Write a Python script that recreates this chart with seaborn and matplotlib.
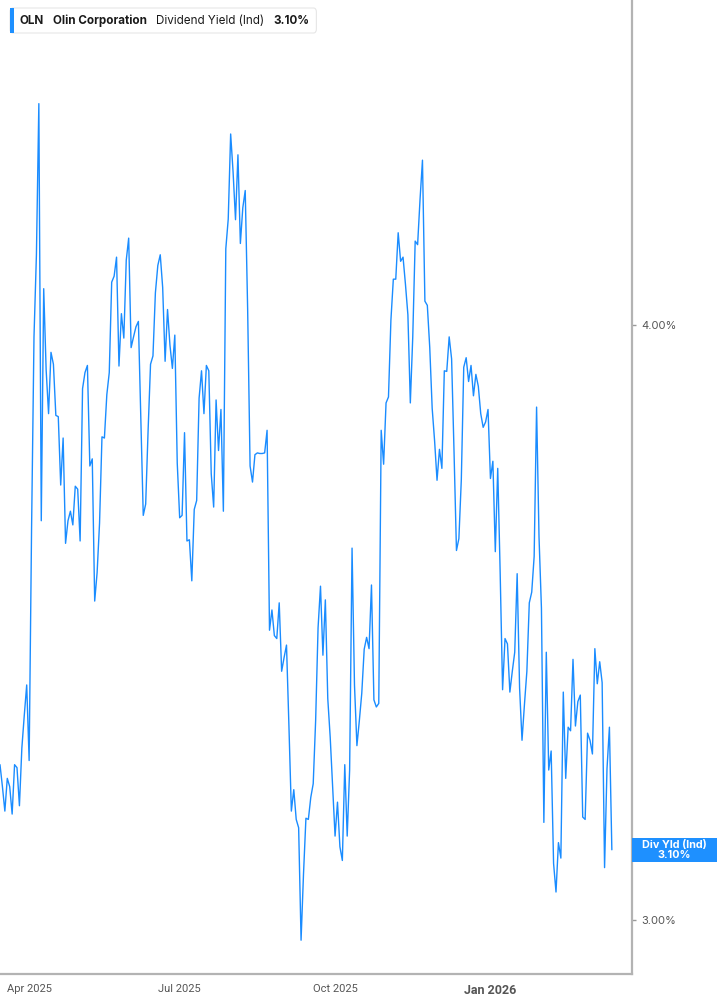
import numpy as np
import pandas as pd
import matplotlib
matplotlib.use("Agg")
import matplotlib.pyplot as plt
import matplotlib.transforms as mtransforms
from matplotlib.patches import FancyBboxPatch, Rectangle
import seaborn as sns

# ---------------- data ----------------
holidays = ["2025-04-18", "2025-05-26", "2025-06-19", "2025-07-04", "2025-09-01",
            "2025-11-27", "2025-12-25", "2026-01-01", "2026-01-19", "2026-02-16"]

yield_pct = [
    3.261, 3.224, 3.183, 3.238, 3.224, 3.178, 3.261, 3.256, 3.192,
    3.289, 3.344, 3.395, 3.268, 3.657, 3.980, 4.118, 4.372, 3.671,
    4.061, 3.925, 3.851, 3.954, 3.934, 3.848, 3.846, 3.731, 3.810, 3.633,
    3.671, 3.687, 3.664, 3.729, 3.724, 3.637, 3.893, 3.920, 3.932, 3.763,
    3.775, 3.536, 3.584, 3.667, 3.812, 3.810, 3.883, 3.920,
    4.072, 4.082, 4.114, 3.931, 4.019, 3.978, 4.109, 4.146, 3.962, 3.980,
    3.997, 4.006, 3.842, 3.680, 3.699, 3.823, 3.934, 3.948, 4.054, 4.100,
    4.118, 4.063, 3.939, 4.026, 3.966, 3.927, 3.983, 3.768, 3.676, 3.680,
    3.819, 3.637, 3.639, 3.570, 3.690, 3.705, 3.877, 3.923, 3.851, 3.932,
    3.923,
    3.750, 3.694, 3.874, 3.789, 3.858, 3.687, 4.128, 4.178, 4.321, 4.257,
    4.177, 4.286, 4.137, 4.197, 4.226, 4.026, 3.763, 3.736, 3.782, 3.785,
    3.784, 3.784, 3.785, 3.823, 3.487, 3.521, 3.478, 3.473, 3.533, 3.418,
    3.441, 3.462, 3.326, 3.183, 3.219, 3.169, 3.155, 2.966, 3.077, 3.171,
    3.169, 3.206,
    3.229, 3.335, 3.491, 3.561, 3.445, 3.538, 3.372, 3.307, 3.224, 3.141,
    3.198, 3.123, 3.100, 3.261, 3.141, 3.252, 3.625, 3.395, 3.293, 3.335,
    3.381, 3.455, 3.475, 3.456, 3.563, 3.370, 3.358, 3.364, 3.823, 3.766,
    3.869, 3.879, 4.008, 4.077, 4.077, 4.155, 4.107, 4.114, 4.068, 4.017,
    3.869,
    3.980, 4.141, 4.135, 4.211, 4.277, 4.040, 4.033, 3.962, 3.860, 3.805,
    3.739, 3.791, 3.759, 3.923, 3.922, 3.980, 3.943, 3.787, 3.621, 3.641,
    3.740, 3.929, 3.945, 3.905, 3.932, 3.881, 3.917, 3.897, 3.851, 3.828,
    3.837, 3.858, 3.742, 3.771, 3.619, 3.759, 3.584,
    3.387, 3.473, 3.464, 3.383, 3.418, 3.450, 3.582, 3.390, 3.302, 3.362,
    3.418, 3.533, 3.551, 3.611, 3.862, 3.644, 3.524, 3.164, 3.450, 3.252,
    3.284, 3.095, 3.047, 3.130, 3.104, 3.383, 3.238, 3.324, 3.318, 3.438,
    3.326, 3.367, 3.378, 3.173, 3.169, 3.314, 3.302, 3.279, 3.456, 3.397,
    3.434, 3.399, 3.088, 3.254, 3.324, 3.118,
]

tick_months = ["2025-04", "2025-07", "2025-10", "2026-01"]
tick_labels = ["Apr 2025", "Jul 2025", "Oct 2025", "Jan 2026"]
ytick_values = [3.0, 4.0]

ticker = "OLN"
company = "Olin Corporation"
metric = "Dividend Yield (Ind)"
last_label = "3.10%"
badge_title = "Div Yld (Ind)"

dates = pd.bdate_range("2025-03-14", periods=len(yield_pct), freq="C", holidays=holidays)
df = pd.DataFrame({"idx": np.arange(len(dates)), "date": dates, "yield": yield_pct})
month_str = df["date"].dt.strftime("%Y-%m")
tick_pos = [int(df.loc[month_str == m, "idx"].iloc[0]) for m in tick_months]

# ---------------- figure ----------------
sns.set_theme(style="white")
plt.rcParams["font.family"] = ["Inter", "DejaVu Sans"]

W, H = 717, 1005
fig = plt.figure(figsize=(W / 100, H / 100), dpi=100)
fig.patch.set_facecolor("white")
ax_bottom_px = 974
ax = fig.add_axes([0, (H - ax_bottom_px) / H, 632 / W, ax_bottom_px / H])
ax.set_facecolor("white")

line_color = "#1a8cff"
sns.lineplot(data=df, x="idx", y="yield", ax=ax, color=line_color, linewidth=1.0)

ax.set_xlim(0.0, 260.3)
ax.set_ylim(2.9092, 4.5462)

for s in ["top", "left"]:
    ax.spines[s].set_visible(False)
for s in ["right", "bottom"]:
    ax.spines[s].set_color("#b3b3b3")
    ax.spines[s].set_linewidth(1.6)

ax.yaxis.tick_right()
ax.set_yticks(ytick_values)
ax.set_yticklabels([f"{v:.2f}%" for v in ytick_values])
ax.tick_params(axis="y", direction="out", length=3, width=1, color="#999999",
               labelsize=8, labelcolor="#555555", pad=4)
ax.set_xticks(tick_pos)
ax.set_xticklabels(tick_labels)
ax.tick_params(axis="x", direction="out", length=4, width=1, color="#b3b3b3",
               labelsize=8, labelcolor="#555555", pad=3)
for lab in ax.get_xticklabels():
    lab.set_family(["Liberation Sans Narrow", "Roboto", "DejaVu Sans"])
    if lab.get_text().startswith("Jan"):
        lab.set_fontweight("bold")
        lab.set_fontsize(9)
ax.set_xlabel("")
ax.set_ylabel("")
ax.grid(False)

# ---------------- last value badge ----------------
last_val = yield_pct[-1]
blend = mtransforms.blended_transform_factory(ax.transAxes, ax.transData)
span = ax.get_ylim()[1] - ax.get_ylim()[0]
badge_h = 24 / ax_bottom_px * span
ax.add_patch(Rectangle((1.0, last_val - badge_h / 2), (W - 632) / 632, badge_h,
                       transform=blend, clip_on=False, facecolor="#1e90ff",
                       edgecolor="none", zorder=5))
ax.text(1.0 + (W - 632) / 2 / 632, last_val, f"{badge_title}\n{last_label}",
        transform=blend, ha="center", va="center", color="white", fontsize=7.8,
        fontweight="bold", linespacing=0.95, clip_on=False, zorder=6)

# ---------------- header box ----------------
def fx(px):
    return px / W

def fy(py):
    return 1 - py / H

renderer = fig.canvas.get_renderer()
parts = [(ticker, "bold"), (company, "bold"), (metric, "normal"), (last_label, "bold")]
x = 20
for i, (txt, wt) in enumerate(parts):
    t = fig.text(fx(x), fy(21), txt, fontsize=8.4, fontweight=wt, color="#1a1a1a",
                 ha="left", va="center", zorder=12)
    bb = t.get_window_extent(renderer=renderer)
    x += bb.width + (9 if i < len(parts) - 1 else 0)
box_right = x + 7

hdr = FancyBboxPatch((fx(10), fy(33)), fx(box_right) - fx(10), fy(8) - fy(33),
                     boxstyle="round,pad=0,rounding_size=0.004",
                     transform=fig.transFigure, facecolor="white",
                     edgecolor="#e6e6e6", linewidth=0.8, zorder=10)
fig.patches.append(hdr)
fig.patches.append(Rectangle((fx(10), fy(33)), fx(3.5), fy(8) - fy(33),
                             transform=fig.transFigure, facecolor="#1e90ff",
                             edgecolor="none", zorder=11))

fig.savefig("out.png", dpi=100, facecolor="white")
